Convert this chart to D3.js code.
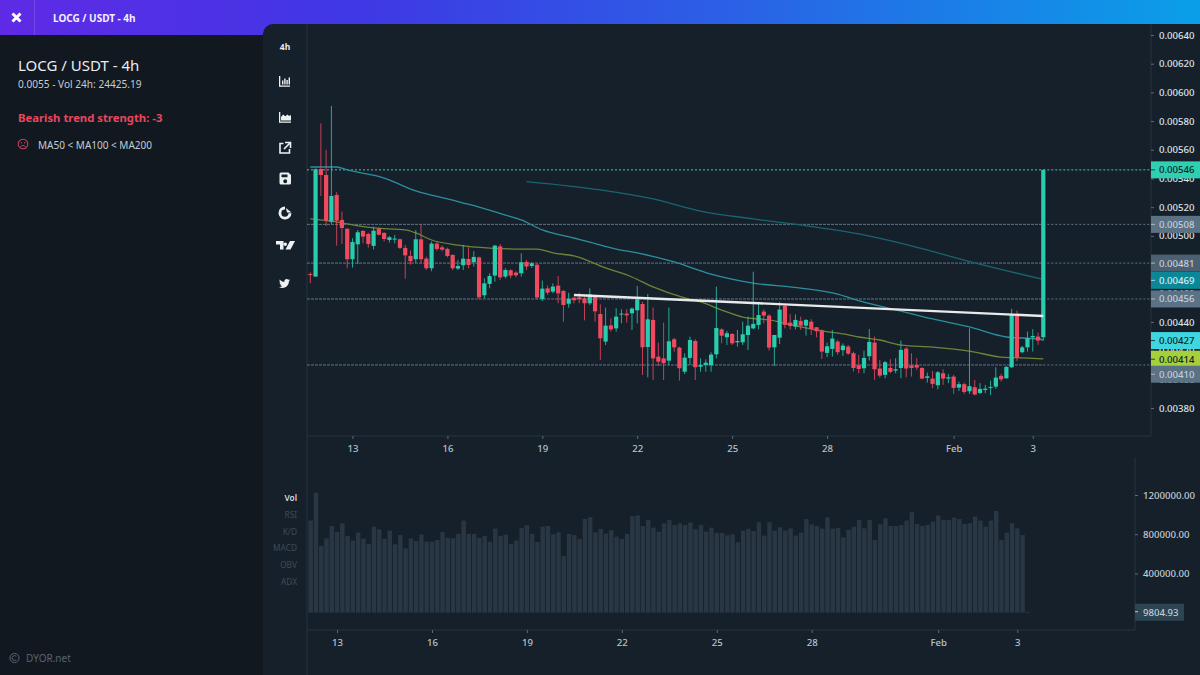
<!DOCTYPE html>
<html>
<head>
<meta charset="utf-8">
<title>LOCG / USDT - 4h</title>
<script src="https://cdn.jsdelivr.net/npm/d3@7/dist/d3.min.js"></script>
<style>
html,body{margin:0;padding:0;background:#111820;overflow:hidden}
svg{display:block}
text{font-family:"Noto Sans",sans-serif}
</style>
</head>
<body>
<svg id="chart" width="1200" height="675"></svg>
<script>
// Prices are kept in units of 0.00001 USDT
const PRICE_UNIT = 1e-5;

const opens = [473.4,471.6,546.6,542.4,509.9,528.5,511.1,505.0,483.7,494.1,503.4,501.3,493.0,505.0,502.0,497.1,497.4,497.6,491.6,486.0,483.7,497.6,484.1,477.4,494.6,492.0,490.9,486.7,477.2,479.5,483.9,481.6,485.0,458.6,466.5,472.3,492.7,471.6,476.0,474.4,473.9,481.8,479.0,479.9,456.0,463.4,461.1,465.3,461.6,452.7,456.9,457.2,456.5,453.0,457.6,445.5,426.3,437.6,435.5,445.3,445.8,446.0,448.1,452.5,422.5,441.4,415.8,414.6,413.0,427.9,422.1,405.3,414.9,426.7,408.8,410.0,409.8,417.4,434.8,429.3,431.6,425.8,425.8,430.9,435.5,437.9,447.2,444.4,422.3,429.0,451.1,439.5,436.7,440.7,437.4,440.2,436.3,434.0,418.4,421.2,426.3,420.3,422.8,418.2,409.8,407.7,416.1,425.6,407.5,403.1,407.9,406.1,407.9,421.4,409.8,410.0,407.9,401.0,400.5,395.9,404.2,400.5,401.9,394.2,396.6,391.7,394.5,390.5,392.6,394.0,394.9,402.4,400.7,408.4,444.4,418.9,422.3,429.3,429.8,429.3];
const highs = [474.6,547.0,578.4,559.9,590.5,530.4,516.9,505.0,498.3,504.1,504.1,502.2,506.4,505.9,502.7,499.9,500.6,498.1,493.7,489.7,504.1,508.3,485.5,496.0,496.4,493.4,491.8,487.1,483.2,493.7,492.0,489.2,485.5,470.4,473.9,493.7,494.3,477.4,476.7,475.3,487.8,483.2,481.6,480.9,468.8,465.3,466.9,472.0,462.3,460.4,457.6,460.4,457.6,463.4,458.1,452.3,450.0,442.5,449.5,448.8,448.8,450.2,465.0,454.1,459.5,450.0,425.6,439.5,450.0,429.0,422.8,418.1,429.7,427.9,414.6,413.9,418.8,464.6,435.5,433.7,432.1,434.4,440.2,443.7,475.0,454.1,448.8,445.3,430.9,454.1,451.8,445.3,445.3,443.7,441.9,441.9,436.3,434.9,425.6,434.4,427.5,425.1,424.0,419.3,417.0,420.0,435.1,429.8,413.5,412.8,414.0,414.7,427.0,422.3,418.2,414.7,408.4,404.7,405.8,405.8,407.0,403.8,403.1,398.4,397.7,435.6,399.6,397.3,396.1,399.1,408.4,403.8,409.3,449.1,447.9,423.3,433.3,434.9,432.6,546.0];
const lows = [467.0,471.6,527.8,506.9,508.3,493.2,494.3,477.4,477.9,480.4,494.8,491.8,490.6,500.4,496.0,495.3,494.8,490.9,470.2,479.9,480.9,480.9,476.2,475.3,489.5,489.2,485.0,476.2,476.2,476.2,477.4,478.6,455.8,456.5,463.4,468.1,469.3,470.4,470.4,471.1,471.6,476.2,477.6,455.5,454.5,458.8,460.0,453.0,440.2,449.9,453.0,453.0,441.1,451.8,440.2,413.5,423.9,433.2,433.2,439.0,439.5,434.4,439.0,403.0,401.4,399.5,409.3,399.5,410.0,419.3,399.1,403.7,410.0,399.5,405.3,405.3,405.3,414.6,425.1,423.9,423.9,422.8,423.9,420.4,434.8,434.8,439.0,420.0,409.3,424.6,435.5,434.8,434.8,434.4,430.5,430.9,429.3,414.2,415.4,415.8,417.0,416.3,417.0,405.4,404.2,404.2,413.1,399.6,401.2,400.7,404.2,404.2,400.7,401.4,401.9,406.5,400.0,397.7,393.8,393.1,396.1,397.3,389.8,391.9,389.8,389.8,388.9,389.6,390.3,389.1,393.3,398.4,400.5,407.9,412.8,418.2,419.3,419.3,424.0,427.0];
const closes = [472.7,546.4,542.4,510.6,527.8,510.6,505.5,483.7,495.7,502.5,499.5,494.3,503.6,500.8,497.8,499.0,498.1,491.6,486.4,482.3,497.6,483.7,477.4,494.6,490.9,490.4,486.0,477.4,479.0,484.1,479.7,485.3,457.2,466.9,472.0,493.2,471.1,476.2,472.3,472.5,481.6,478.6,480.9,457.0,463.2,460.4,464.6,459.9,451.8,456.2,455.1,455.8,453.0,459.2,447.4,428.6,437.4,434.8,443.7,445.8,444.6,449.3,455.8,422.3,441.8,414.6,412.3,411.2,426.5,422.3,407.7,415.1,427.4,408.4,410.0,411.6,417.2,435.8,430.4,432.1,425.1,426.7,431.4,437.4,438.6,444.8,444.4,422.1,430.9,448.6,437.9,437.2,441.4,437.4,441.4,435.1,433.5,419.3,423.0,428.4,418.9,423.5,417.9,407.9,407.2,414.9,426.1,407.0,402.6,411.9,405.2,407.0,420.5,407.5,407.9,408.2,400.5,402.1,396.8,404.9,400.5,401.4,394.0,396.6,391.2,395.2,389.4,393.3,393.5,394.7,401.2,400.0,408.6,445.1,415.1,422.3,428.6,430.2,427.0,546.0];

// Volume of each candle, in thousands, from the fourth candle onward
const volumeStart = 3;
const volumes = [939,1224,680,758,884,823,912,782,735,816,755,701,877,850,752,837,697,792,656,758,731,796,724,724,741,823,765,758,803,939,803,803,762,782,724,857,782,796,701,735,864,891,803,721,877,884,799,820,578,803,792,752,956,973,820,854,806,840,775,752,803,986,993,884,945,867,826,911,945,894,911,894,918,850,894,826,867,813,813,789,799,718,837,857,833,922,786,922,837,871,837,860,786,816,956,901,884,857,973,857,864,769,844,877,946,860,946,741,901,962,884,884,895,939,1024,905,884,895,928,990,946,946,969,956,905,912,980,939,877,939,1037,741,816,912,860,792,9.80493];

// Moving averages, read at selected candles
const ma50Index = [0,6,8,12,18,20,23,28,34,40,43,46,50,56,61,65,71,74,78,82,87,93,97,101,104,108,112,118,125,131,135,139];
const ma50Value = [511.8,509.0,507.6,505.5,504.1,502.0,497.1,493.6,491.5,490.8,490.8,488.1,486.0,477.6,471.3,464.4,456.7,453.9,448.3,443.4,441.4,436.5,433.7,431.6,429.5,427.4,423.9,422.5,419.7,415.5,414.9,414.2];
const ma100Index = [0,5,7,14,20,26,32,37,40,44,50,53,58,62,69,76,84,93,100,103,112,118,125,132,138,139];
const ma100Value = [548.0,548.0,545.9,540.3,531.3,525.7,520.1,514.5,511.1,504.1,498.5,495.7,490.8,488.1,481.8,473.4,467.1,463.6,459.4,455.9,447.6,442.1,436.5,429.5,428.1,427.4];
const ma200Index = [41,55,65,74,84,93,104,114,126,139];
const ma200Value = [537.8,532.0,525.7,517.3,511.8,507.6,501.3,493.0,481.1,469.6];

// Drawn resistance line
const trendIndex = [50,139];
const trendValue = [458.8,444.1];

// Horizontal price levels
const levelValues = [546,508,481,456,410];
const levelColors = ["#35c9ad","#5e7587","#5e7587","#5e7587","#5e7587"];

// Boxed price labels, listed top to bottom
const tagValues = [546,508,481,469,456,427,414,410];
const tagFills = ["#2dd0b1","#5b7184","#4d6072","#0b8798","#5b7184","#3fd6df","#a4d03b","#5b7184"];
const tagInks = ["#10222a","#c4cfd8","#c4cfd8","#d6eef2","#c4cfd8","#10222a","#10222a","#c4cfd8"];

const priceTicks = d3.range(380,641,20);
const dayTickIndex = [8,26,44,62,80,98,122,137];
const dayTickLabels = ["13","16","19","22","25","28","Feb","3"];
const volumeTicks = [400,800,1200];
const indicatorNames = ["Vol","RSI","K/D","MACD","OBV","ADX"];

const svg = d3.select("#chart");
const defs = svg.append("defs");
const grad = defs.append("linearGradient").attr("id","bar");
grad.append("stop").attr("offset","0").attr("stop-color","#5f2ae6");
grad.append("stop").attr("offset","0.3").attr("stop-color","#3f38e4");
grad.append("stop").attr("offset","0.62").attr("stop-color","#2a62e6");
grad.append("stop").attr("offset","1").attr("stop-color","#0a9fe8");

// Page frame
svg.append("rect").attr("width",1200).attr("height",675).attr("fill","#111820");
svg.append("rect").attr("width",1200).attr("height",35).attr("fill","url(#bar)");
svg.append("path").attr("fill","#16202b")
  .attr("d","M263 675V34a10 10 0 0 1 10-10H1200V675Z");
svg.append("rect").attr("x",34).attr("y",0).attr("width",1).attr("height",35).attr("fill","#ffffff").attr("opacity",0.14);
svg.append("path").attr("d","M12.5 13.5l8 8M20.5 13.5l-8 8").attr("stroke","#fff").attr("stroke-width",3).attr("fill","none");

// Side panel text
const label = (x,y,t,size,color,weight,anchor) => svg.append("text").attr("x",x).attr("y",y).text(t)
  .attr("font-size",size).attr("fill",color).attr("font-weight",weight||400).attr("text-anchor",anchor||"start");
label(53,22,"LOCG / USDT - 4h",10,"#f2f0ff",700);
label(18,71,"LOCG / USDT - 4h",15,"#e8ecf0");
label(18,88,"0.0055 - Vol 24h: 24425.19",10.1,"#c6ccd2");
label(18,122,"Bearish trend strength: -3",11.3,"#e8475f",700);
label(38,149,"MA50 < MA100 < MA200",10,"#c6ccd2");
svg.append("circle").attr("cx",23).attr("cy",144).attr("r",4.8).attr("fill","none").attr("stroke","#c8405a").attr("stroke-width",1.1);
svg.append("path").attr("d","M20.6 146.4q2.4-2 4.8 0").attr("fill","none").attr("stroke","#c8405a");
svg.append("circle").attr("cx",21.3).attr("cy",142.8).attr("r",0.7).attr("fill","#c8405a");
svg.append("circle").attr("cx",24.7).attr("cy",142.8).attr("r",0.7).attr("fill","#c8405a");
svg.append("circle").attr("cx",14.5).attr("cy",658).attr("r",4.6).attr("fill","none").attr("stroke","#5a636c");
svg.append("path").attr("d","M16.3 656.4a2.4 2.4 0 1 0 0 3.2").attr("fill","none").attr("stroke","#5a636c");
label(26,662,"DYOR.net",10,"#5a636c");

// Toolbar
label(285,50,"4h",8.5,"#e8ecf0",700,"middle");
const icon = (d,x,y,opts) => svg.append("path").attr("d",d).attr("transform",`translate(${x},${y})`)
  .attr("fill",(opts&&opts.fill)||"#eef1f4").attr("stroke",(opts&&opts.stroke)||"none").attr("stroke-width",(opts&&opts.sw)||0);
icon("M0 0h1.3v9.4H11v1.4H0ZM3 4.5h1.4v4H3ZM5.2 2.5h1.4v6H5.2ZM7.4 4h1.4v4.5H7.4ZM9.6 1.5H11v7H9.6Z",279,76);
icon("M0 0h1.3v9.4H12v1.4H0ZM2 8.5V5l2.2-2.4 2 1.6L8.6 2.4 10 4l2-1v5.5Z",279,112);
icon("M4.5 2H1v9.5h9.5V7.5M6 1h5.5v5.5M11 1.5 5 7.5",279,141.5,{fill:"none",stroke:"#eef1f4",sw:1.6});
icon("M0 1.5A1.5 1.5 0 0 1 1.5 0H9l2.5 2.5v8A1.5 1.5 0 0 1 10 12H1.5A1.5 1.5 0 0 1 0 10.5ZM2 2v2.8h6V2ZM5.7 6.8a2 2 0 1 0 .01 0Z",279.5,172.5);
icon("M6.5 0A6.5 6.5 0 1 0 13 6.8H10a3.6 3.6 0 1 1-3.5-3.8ZM7.4 1.6 13 6 8.5 6Z",278.5,206.5);
icon("M0 0H7.5V8.5H4V3.5H0ZM14 0H19L14.5 8.5H9.5ZM9.3 1.5a1.7 1.7 0 1 0 .01 0Z",276,241);
icon("M23.953 4.57a10 10 0 01-2.825.775 4.958 4.958 0 002.163-2.723c-.951.555-2.005.959-3.127 1.184a4.92 4.92 0 00-8.384 4.482C7.69 8.095 4.067 6.13 1.64 3.162a4.822 4.822 0 00-.666 2.475c0 1.71.87 3.213 2.188 4.096a4.904 4.904 0 01-2.228-.616v.06a4.923 4.923 0 003.946 4.827 4.996 4.996 0 01-2.212.085 4.936 4.936 0 004.604 3.417 9.867 9.867 0 01-6.102 2.105c-.39 0-.779-.023-1.17-.067a13.995 13.995 0 007.557 2.209c9.053 0 13.998-7.496 13.998-13.985 0-.21 0-.42-.015-.63A9.935 9.935 0 0024 4.59z",279,278).attr("transform","translate(279,278) scale(0.46)");

indicatorNames.forEach((n,i) => label(297,501+i*16.8,n,8.3,i===0?"#d5dbe0":"#3f4b57",i===0?600:400,"end"));

// Panel rules
const rule = "#27323d";
[[307,24,307,675],[1151,24,1151,436],[307,436,1151,436],[1135,458,1135,630],[307,630,1135,630]].forEach(r =>
  svg.append("line").attr("x1",r[0]).attr("y1",r[1]).attr("x2",r[2]).attr("y2",r[3]).attr("stroke",rule));

// Scales
const x = d3.scaleLinear().domain([0,139]).range([310.3,1043.3]);
const xVol = d3.scaleLinear().domain([volumeStart,142]).range([310.7,1043.7]);
const y = d3.scaleLinear().domain([640,380]).range([35,408]);
const yVol = d3.scaleLinear().domain([0,1200]).range([612.7,495]);

// Price levels: tight dashes across the candles, open dots out to the axis
const levels = svg.append("g");
levelValues.forEach((v,i) => {
  const tight = i > 0;
  levels.append("line").attr("x1",307).attr("x2",x(139)).attr("y1",y(v)).attr("y2",y(v))
    .attr("stroke",levelColors[i]).attr("stroke-dasharray",tight?"3,1":"2,2");
  levels.append("line").attr("x1",x(139)).attr("x2",1151).attr("y1",y(v)).attr("y2",y(v))
    .attr("stroke",levelColors[i]).attr("stroke-dasharray","2,2");
});

// Moving averages
const maLine = (idx,val,color) => svg.append("path")
  .datum(d3.zip(idx,val))
  .attr("fill","none").attr("stroke",color).attr("stroke-width",1.3)
  .attr("d",d3.line().x(d => x(d[0])).y(d => y(d[1])).curve(d3.curveMonotoneX));
maLine(ma200Index,ma200Value,"#1a6472");
maLine(ma100Index,ma100Value,"#2b8f9d");
maLine(ma50Index,ma50Value,"#6f8435");

// Candles
const candles = d3.range(opens.length).map(i => ({i,o:opens[i],h:highs[i],l:lows[i],c:closes[i]}));
const up = "#27cdae", down = "#f04a60";
const tone = d => d.c >= d.o ? up : down;
const gCandles = svg.append("g");
gCandles.selectAll("line").data(candles).join("line")
  .attr("x1",d => x(d.i)).attr("x2",d => x(d.i))
  .attr("y1",d => y(d.h)).attr("y2",d => y(d.l))
  .attr("stroke",tone).attr("stroke-width",1).attr("opacity",0.8);
gCandles.selectAll("rect").data(candles).join("rect")
  .attr("x",d => x(d.i)-2.1).attr("width",4.2)
  .attr("y",d => y(Math.max(d.o,d.c)))
  .attr("height",d => Math.max(1,Math.abs(y(d.o)-y(d.c))))
  .attr("fill",tone);

// Resistance line
svg.append("path").datum(d3.zip(trendIndex,trendValue))
  .attr("fill","none").attr("stroke","#e8eaec").attr("stroke-width",2.4)
  .attr("d",d3.line().x(d => x(d[0])).y(d => y(d[1])));

// Axes share one small type size
const axisFont = 9.6;
const styleAxis = (g,color) => {
  g.select(".domain").remove();
  g.selectAll("line").attr("stroke","#5d6a76");
  g.selectAll("text").attr("fill",color).attr("font-size",axisFont).attr("font-weight",500).attr("font-family",'"Noto Sans",sans-serif');
};

// Price axis
svg.append("g").attr("transform","translate(1151,0)")
  .call(d3.axisRight(y).tickValues(priceTicks).tickSize(3).tickPadding(5)
    .tickFormat(d => (d*PRICE_UNIT).toFixed(5)))
  .call(styleAxis,"#dde2e6");

// Boxed price labels: a box that would run into the one above slides down
let lastBoxY = -Infinity;
const boxY = tagValues.map(v => {
  const want = y(v);
  const placed = want - lastBoxY < 15 ? lastBoxY + 15 : want;
  lastBoxY = placed;
  return placed;
});
const tags = svg.append("g").selectAll("g").data(tagValues).join("g")
  .attr("transform",(d,i) => `translate(1151,${boxY[i]})`);
tags.append("rect").attr("y",-8.5).attr("width",49).attr("height",17).attr("fill",(d,i) => tagFills[i]);
tags.append("line").attr("x2",4).attr("stroke",(d,i) => tagInks[i]).attr("opacity",0.8);
tags.append("text").attr("x",8).attr("y",3.5).attr("font-size",axisFont).attr("font-weight",500).attr("fill",(d,i) => tagInks[i])
  .text(d => (d*PRICE_UNIT).toFixed(5));

// Day axes
const dayAxis = (scale,top) => svg.append("g").attr("transform",`translate(0,${top})`)
  .call(d3.axisBottom(scale).tickValues(dayTickIndex).tickSize(3).tickPadding(6)
    .tickFormat((d,i) => dayTickLabels[i]))
  .call(styleAxis,"#b9c2ca");
dayAxis(x,436);
dayAxis(xVol,630);

// Volume bars
const volumeData = volumes.map((v,k) => ({i:k+volumeStart,v}));
svg.append("g").selectAll("rect").data(volumeData).join("rect")
  .attr("x",d => xVol(d.i)-2.2).attr("width",4.4)
  .attr("y",d => yVol(d.v)).attr("height",d => Math.max(1,yVol(0)-yVol(d.v)))
  .attr("fill","#293744");

// Volume axis
svg.append("g").attr("transform","translate(1135,0)")
  .call(d3.axisRight(yVol).tickValues(volumeTicks).tickSize(3).tickPadding(5)
    .tickFormat(d => (d*1000).toFixed(2)))
  .call(styleAxis,"#c4ccd3");
const lastVolume = volumes[volumes.length-1];
const volTag = svg.append("g").attr("transform",`translate(1135,${yVol(lastVolume)})`);
volTag.append("rect").attr("y",-8).attr("width",49).attr("height",17).attr("fill","#2d4452");
volTag.append("line").attr("x2",3).attr("stroke","#c4ccd3");
volTag.append("text").attr("x",8).attr("y",4).attr("font-size",axisFont).attr("font-weight",500).attr("fill","#c4ccd3")
  .text((lastVolume*1000).toFixed(2));
</script>
</body>
</html>
